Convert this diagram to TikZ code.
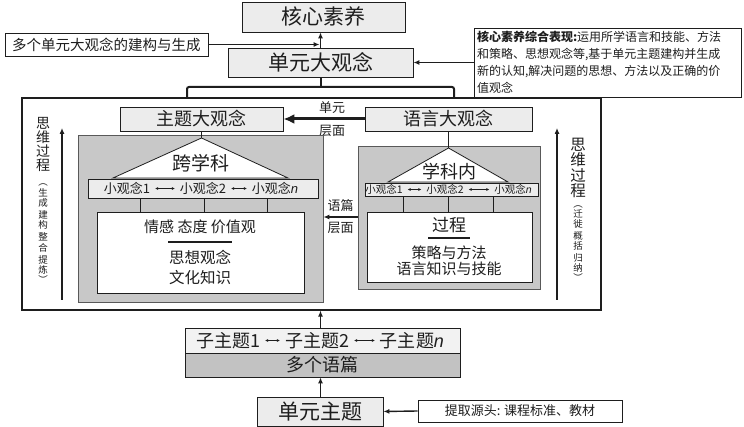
\documentclass[tikz,border=0pt]{standalone}
\usepackage{fontspec}
\setmainfont{Noto Sans CJK SC}
\newfontfamily\latinit{Liberation Sans}
\usepackage{tikz}
\usetikzlibrary{arrows.meta,positioning}
\definecolor{ink}{HTML}{1E1E1E}
\definecolor{lightbox}{HTML}{ECECEC}
\definecolor{panelgray}{HTML}{C8C8C8}
\definecolor{darkbar}{HTML}{C2C2C2}
\newcommand{\fs}[2]{\fontsize{#1}{#2}\selectfont}
\newcommand{\nn}{{\latinit\itshape n}}

\begin{document}
\begin{tikzpicture}[x=1pt,y=-1pt,font=\fs{13}{15},text=ink,>=Latex]
\tikzset{graybox/.style={draw=ink,fill=lightbox,inner sep=0pt,line width=0.8pt},
  panel/.style={draw=black!65,fill=panelgray,inner sep=0pt,line width=0.8pt},
  whitebox/.style={draw=ink,fill=white,inner sep=0pt,line width=0.8pt},
  flow/.style={-{Latex[length=6pt,width=5pt]},line width=1.1pt,draw=ink},
  bigflow/.style={-{Latex[length=11pt,width=10pt]},line width=3pt,draw=ink},
  dflow/.style={{Latex[length=3pt,width=3pt]}-{Latex[length=3pt,width=3pt]},line width=0.9pt,draw=ink,shorten <=1.5pt,shorten >=1.5pt},
  link/.style={line width=0.8pt,draw=ink},
  vtext/.style={align=center,inner sep=0pt,execute at begin node={\lineskiplimit=-50pt\lineskip=0pt}}}
\useasboundingbox (0,0) rectangle (744,427);

% top: core competence and unit big idea
\node[graybox,minimum width=163,minimum height=30,font=\fs{21}{24}] (core) at (323.5,17) {核心素养};
\node[graybox,minimum width=185,minimum height=29,font=\fs{21}{24}] (unitidea) at (320.5,62.5) {单元大观念};
\node[whitebox,minimum width=203,minimum height=23,font=\fs{14.5}{17}] (multi) at (106.5,44.5) {多个单元大观念的建构与生成};
\node[whitebox,minimum width=267,minimum height=69,inner xsep=3pt,text width=261,align=left,font=\fs{12}{17}] (perf) at (607.5,62.5) {\textbf{核心素养综合表现:}运用所学语言和技能、方法\\和策略、思想观念等,基于单元主题建构并生成\\新的认知,解决问题的思想、方法以及正确的价\\值观念};
\draw[flow] (unitidea.north) -- (unitidea.north |- core.south);
\draw[flow] (multi.east) -- ([xshift=-1pt]unitidea.north |- multi.east);
\draw[flow,line width=1.6pt] (perf.west) -- (unitidea.east);

% outer frame and bracket
\node[whitebox,line width=1.2pt,minimum width=579,minimum height=212] (outer) at (311.5,204) {};
\coordinate (bleft) at (187,98);
\coordinate (bright) at (454,98);
\coordinate (bmid) at (320.5,87);
\draw[link,line width=2pt,rounded corners=2pt] (bleft) -- (bleft |- bmid) -- (bright |- bmid) -- (bright);
\draw[link,line width=2pt] (unitidea.south) -- (bmid);

% thinking process arrows
\coordinate (lbase) at (62,300);
\coordinate (ltip) at (62,128);
\coordinate (rbase) at (557,300);
\coordinate (rtip) at (557,128);
\draw[flow] (lbase) -- (ltip);
\draw[flow] (rbase) -- (rtip);
\node[vtext,font=\fs{14}{14}] (lthink) at (43,144) {思\\维\\过\\程};
\node[vtext,font=\fs{9.5}{10.2}] (lways) at (43,234) {︵\\生\\成\\[2pt]建\\构\\[2pt]整\\合\\[2pt]提\\炼\\︶};
\node[vtext,font=\fs{15.5}{15.5}] (rthink) at (578,168) {思\\维\\过\\程};
\node[vtext,font=\fs{9.5}{10}] (rways) at (578,244) {︵\\迁\\徙\\[2pt]概\\括\\[2pt]归\\纳\\︶};

% theme big idea and language big idea
\node[graybox,minimum width=163,minimum height=24,font=\fs{18}{20}] (themeidea) at (201.5,119) {主题大观念};
\node[graybox,minimum width=167,minimum height=24,font=\fs{18}{20}] (langidea) at (448.5,119) {语言大观念};
\draw[bigflow] (langidea.west) -- node[pos=0.4,above=1pt,font=\fs{13}{15}] {单元} node[pos=0.4,below=1pt,font=\fs{13}{15}] {层面} (themeidea.east);

% left panel: cross-discipline
\node[panel,minimum width=245,minimum height=167] (lpanel) at (200.5,218.5) {};
\coordinate (lapex) at (201.5,138);
\coordinate (lbl) at (113,178);
\coordinate (lbr) at (288,178);
\draw[link] (themeidea.south) -- (lapex);
\draw[whitebox] (lapex) -- (lbl) -- (lbr) -- cycle;
\node[font=\fs{19}{21}] (cross) at (201,163) {跨学科};
\node[graybox,minimum width=230,minimum height=19] (lbar) at (203,188.5) {};
\node[font=\fs{13}{15}] (lsub1) at (127,188.5) {小观念1};
\node[font=\fs{13}{15}] (lsub2) at (203,188.5) {小观念2};
\node[font=\fs{13}{15}] (lsubn) at (275,188.5) {小观念\nn};
\draw[dflow] (lsub1) -- (lsub2);
\draw[dflow] (lsub2) -- (lsubn);
\node[whitebox,minimum width=207,minimum height=81] (lwhite) at (200.5,252.5) {};
\foreach \x in {140,204,267} \draw[link] (\x,0 |- lbar.south) -- (\x,0 |- lwhite.north);
\node[font=\fs{15}{17}] (lvalue) at (200,227) {情感 态度 价值观};
\coordinate (lrule) at (200,242);
\draw[link,line width=1.6pt] ([xshift=-32pt]lrule) -- ([xshift=32pt]lrule);
\node[font=\fs{15.5}{17}] (lthought) at (200,257) {思想观念};
\node[font=\fs{15.5}{17}] (lculture) at (200,278) {文化知识};

% right panel: within discipline
\node[panel,minimum width=182,minimum height=143] (rpanel) at (449,217.5) {};
\coordinate (rapex) at (448.5,148);
\coordinate (rbl) at (388,182);
\coordinate (rbr) at (508,182);
\draw[link] (langidea.south) -- (rapex);
\draw[whitebox] (rapex) -- (rbl) -- (rbr) -- cycle;
\node[font=\fs{18}{20}] (within) at (449,172) {学科内};
\node[graybox,minimum width=173,minimum height=13] (rbar) at (451.5,189.5) {};
\node[font=\fs{10.5}{12}] (rsub1) at (384,189.5) {小观念1};
\node[font=\fs{10.5}{12}] (rsub2) at (445,189.5) {小观念2};
\node[font=\fs{10.5}{12}] (rsubn) at (513,189.5) {小观念\nn};
\draw[dflow] (rsub1) -- (rsub2);
\draw[dflow] (rsub2) -- (rsubn);
\node[whitebox,minimum width=165,minimum height=70] (rwhite) at (449.5,247) {};
\foreach \x in {403,448,493} \draw[link] (\x,0 |- rbar.south) -- (\x,0 |- rwhite.north);
\node[font=\fs{17}{19}] (rprocess) at (449,225) {过程};
\coordinate (rrule) at (449,238);
\draw[link,line width=1.6pt] ([xshift=-21pt]rrule) -- ([xshift=21pt]rrule);
\node[font=\fs{15}{17}] (rstrategy) at (449,253) {策略与方法};
\node[font=\fs{15}{17}] (rskill) at (449,269) {语言知识与技能};
\draw[flow,line width=1.5pt] (rpanel.west |- 0,217) -- node[above=1pt,font=\fs{13}{15}] {语篇} node[below=1pt,font=\fs{13}{15}] {层面} (lpanel.east |- 0,217);

% bottom: sub-themes, texts and unit theme
\node[graybox,fill=lightbox!70,minimum width=275,minimum height=25] (subs) at (322.5,340.5) {};
\node[graybox,fill=darkbar,minimum width=275,minimum height=24,font=\fs{18}{20}] (texts) at (322.5,365) {多个语篇};
\node[font=\fs{18}{20}] (sub1) at (228,340.5) {子主题1};
\node[font=\fs{18}{20}] (sub2) at (317,340.5) {子主题2};
\node[font=\fs{18}{20}] (subn) at (412,340.5) {子主题\nn};
\draw[dflow] (sub1) -- (sub2);
\draw[dflow] (sub2) -- (subn);
\node[graybox,minimum width=126,minimum height=29,font=\fs{21}{24}] (unittheme) at (320,411.5) {单元主题};
\node[whitebox,minimum width=204,minimum height=22,font=\fs{13}{15}] (source) at (520,411) {提取源头: 课程标准、教材};
\draw[flow] (subs.north -| unitidea.south) -- (unitidea.south |- outer.south);
\draw[flow] (unittheme.north -| unitidea.south) -- (unitidea.south |- texts.south);
\draw[flow,line width=1.4pt] (source.west) -- (unittheme.east);
\end{tikzpicture}
\end{document}
